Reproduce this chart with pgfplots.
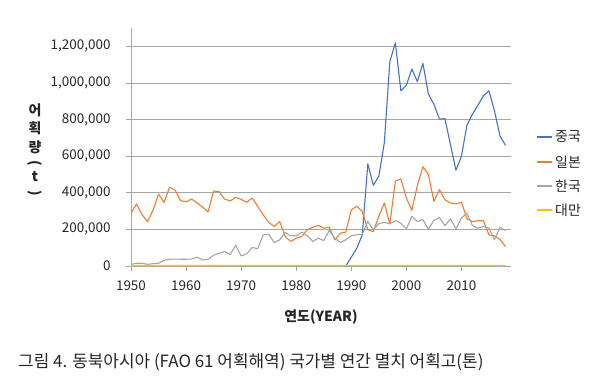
\documentclass[border=0pt]{standalone}
\usepackage{fontspec}
\setmainfont{Noto Sans CJK KR}
\usepackage{graphicx}
\usepackage{pgfplots}
\pgfplotsset{compat=1.18}
\definecolor{cn}{HTML}{4472C4}
\definecolor{jp}{HTML}{ED7D31}
\definecolor{kr}{HTML}{A5A5A5}
\definecolor{tw}{HTML}{FFC000}
\definecolor{gridgray}{HTML}{A6A6A6}
\definecolor{txt}{HTML}{262626}
\begin{document}
\begin{tikzpicture}[x=1bp,y=1bp]
\useasboundingbox (-131,-111) rectangle (469,266);
\begin{axis}[
  at={(0,0)}, anchor=south west,
  scale only axis, width=380bp, height=238bp,
  xmin=1950, xmax=2019, ymin=0, ymax=1300000,
  axis x line*=bottom, axis y line*=left,
  axis line style={-, draw=gridgray, line width=0.8bp},
  x axis line style={draw=none},
  xtick={1950,1960,...,2010},
  ytick={0,200000,...,1200000},
  tick align=outside, major tick length=5bp,
  tick style={draw=gridgray, line width=0.8bp},
  ymajorgrids, grid style={draw=gridgray, line width=0.8bp},
  scaled y ticks=false,
  /pgf/number format/assume math mode=true,
  yticklabel style={/pgf/number format/.cd, fixed, 1000 sep={,}},
  xticklabel style={/pgf/number format/.cd, 1000 sep={}},
  ticklabel style={font=\fontsize{13.5}{16}\selectfont, text=txt},
  yticklabel shift=12bp,
  xticklabel shift=6bp,
  clip=false,
  every axis plot/.append style={line width=1.1bp, line join=round},
]
\addplot[color=cn, no marks] coordinates {
(1989,0) (1990,48000) (1991,97000) (1992,170000) (1993,558000) (1994,441000)
(1995,490000) (1996,673000) (1997,1116000) (1998,1219000) (1999,957000)
(2000,988000) (2001,1076000) (2002,1007000) (2003,1107000) (2004,939000)
(2005,884000) (2006,802000) (2007,805000) (2008,664000) (2009,523000)
(2010,600000) (2011,769000) (2012,829000) (2013,878000) (2014,930000)
(2015,957000) (2016,847000) (2017,710000) (2018,659000)
};
\addplot[color=jp, no marks] coordinates {
(1950,289000) (1951,339000) (1952,280000) (1953,243000) (1954,304000)
(1955,393000) (1956,348000) (1957,430000) (1958,415000) (1959,357000)
(1960,350000) (1961,366000) (1962,344000) (1963,322000) (1964,296000)
(1965,410000) (1966,406000) (1967,366000) (1968,355000) (1969,375000)
(1970,364000) (1971,348000) (1972,371000) (1973,326000) (1974,280000)
(1975,238000) (1976,216000) (1977,243000) (1978,161000) (1979,134000)
(1980,152000) (1981,161000) (1982,198000) (1983,212000) (1984,221000)
(1985,207000) (1986,212000) (1987,143000) (1988,179000) (1989,185000)
(1990,307000) (1991,326000) (1992,298000) (1993,198000) (1994,188000)
(1995,271000) (1996,344000) (1997,229000) (1998,463000) (1999,476000)
(2000,371000) (2001,304000) (2002,441000) (2003,542000) (2004,500000)
(2005,353000) (2006,417000) (2007,362000) (2008,344000) (2009,339000)
(2010,348000) (2011,258000) (2012,243000) (2013,247000) (2014,247000)
(2015,170000) (2016,165000) (2017,146000) (2018,106000)
};
\addplot[color=kr, no marks] coordinates {
(1950,9000) (1951,15000) (1952,15000) (1953,9000) (1954,13000)
(1955,15000) (1956,31000) (1957,37000) (1958,38000) (1959,37000)
(1960,37000) (1961,38000) (1962,48000) (1963,33000) (1964,37000)
(1965,59000) (1966,70000) (1967,79000) (1968,62000) (1969,113000)
(1970,55000) (1971,66000) (1972,101000) (1973,95000) (1974,170000)
(1975,174000) (1976,128000) (1977,143000) (1978,183000) (1979,165000)
(1980,165000) (1981,185000) (1982,165000) (1983,134000) (1984,152000)
(1985,139000) (1986,194000) (1987,152000) (1988,128000) (1989,143000)
(1990,165000) (1991,170000) (1992,174000) (1993,243000) (1994,198000)
(1995,231000) (1996,238000) (1997,231000) (1998,247000) (1999,234000)
(2000,203000) (2001,271000) (2002,243000) (2003,253000) (2004,201000)
(2005,249000) (2006,265000) (2007,220000) (2008,258000) (2009,203000)
(2010,262000) (2011,289000) (2012,221000) (2013,207000) (2014,216000)
(2015,207000) (2016,143000) (2017,212000) (2018,194000)
};
\addplot[color=tw, no marks, line width=1.4bp] coordinates {
(1950,2000) (1955,2000) (1960,2000) (1965,2500) (1970,3000) (1975,3000)
(1980,3000) (1985,3000) (1990,3000) (1995,3000) (2000,3000) (2005,3000)
(2010,3000) (2015,2500) (2018,2500)
};
\end{axis}
\draw[cn, line width=1.2bp] (406,129) -- (421,129);
\draw[jp, line width=1.2bp] (406,104) -- (421,104);
\draw[kr, line width=1.2bp] (406,80) -- (421,80);
\draw[tw, line width=1.2bp] (406,56) -- (421,56);
\begin{scope}[every node/.style={anchor=west, inner sep=0pt, font=\fontsize{14}{16}\selectfont, text=txt}]
\node at (424,129) {중국};
\node at (424,104) {일본};
\node at (424,80) {한국};
\node at (424,56) {대만};
\end{scope}
\begin{scope}[every node/.style={font=\fontsize{14}{16}\selectfont\bfseries, text=txt, inner sep=0pt}]
\node at (-96,156) {어};
\node at (-96,138) {획};
\node at (-96,119) {량};
\node at (-96,103) {\rotatebox{-90}{(}};
\node at (-96,89) {t};
\node at (-96,73) {\rotatebox{-90}{)}};
\node at (190,-51) {연도(YEAR)};
\end{scope}
\node[anchor=west, inner sep=0pt, font=\fontsize{17}{20}\selectfont, text=txt] at (-113,-96) {그림 4. 동북아시아 (FAO 61 어획해역) 국가별 연간 멸치 어획고(톤)};
\end{tikzpicture}
\end{document}
